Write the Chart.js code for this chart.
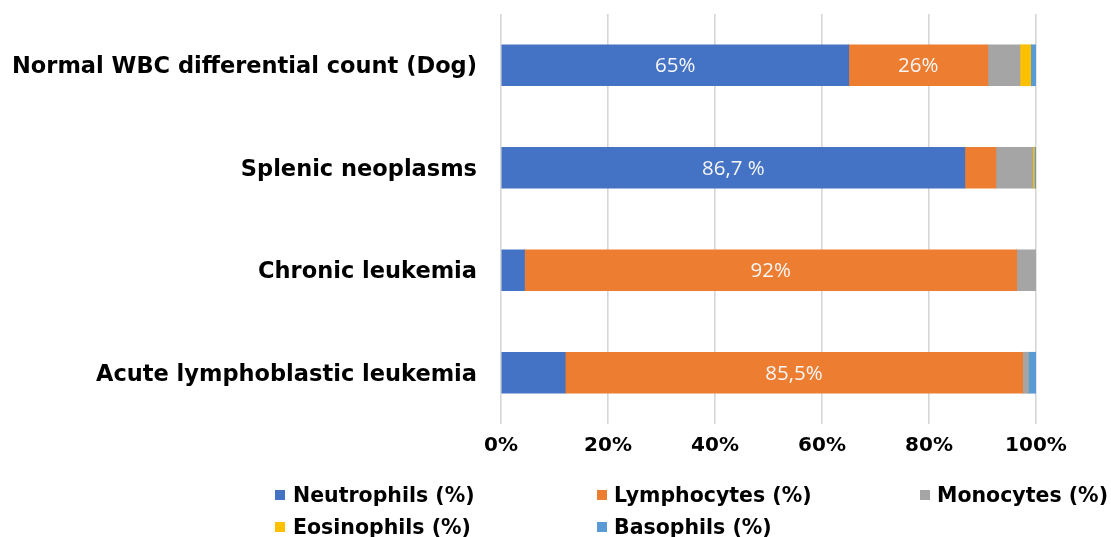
<!DOCTYPE html>
<html>
<head>
<meta charset="utf-8">
<script src="https://cdn.jsdelivr.net/npm/chart.js@4.4.1/dist/chart.umd.min.js"></script>
<style>
  html, body { margin: 0; padding: 0; background: #ffffff; }
  #wrap { position: relative; width: 1111px; height: 537px; }
  #c { position: absolute; left: 0; top: 0; }
  .lg { position: absolute; font-family: "DejaVu Sans", Verdana, sans-serif; font-weight: bold; font-size: 20.5px; color: #000; white-space: nowrap; line-height: 24px; height: 24px; }
  .lg span.box { position: absolute; width: 10px; height: 10px; top: 7px; }
</style>
</head>
<body>
<div id="wrap">
  <canvas id="c" width="1111" height="537"></canvas>
  <div id="legend"></div>
</div>
<script>
const categories = ['Normal WBC differential count (Dog)', 'Splenic neoplasms', 'Chronic leukemia', 'Acute lymphoblastic leukemia'];
const seriesNames = ['Neutrophils (%)', 'Lymphocytes (%)', 'Monocytes (%)', 'Eosinophils (%)', 'Basophils (%)'];
const neutrophils = [65, 86.7, 4.4, 12];
const lymphocytes = [26, 5.8, 92, 85.5];
const monocytes = [6, 6.9, 3.6, 1];
const eosinophils = [2, 0.3, 0, 0];
const basophils = [1, 0.3, 0, 1.5];
const neutrophilLabels = ['65%', '86,7 %', '', ''];
const lymphocyteLabels = ['26%', '', '92%', '85,5%'];
const xTicks = [0, 20, 40, 60, 80, 100];
const colors = ['#4472C4', '#ED7D31', '#A5A5A5', '#FFC000', '#5B9BD5'];

const seriesValues = [neutrophils, lymphocytes, monocytes, eosinophils, basophils];
const seriesLabels = [neutrophilLabels, lymphocyteLabels, null, null, null];

const barLabelPlugin = {
  id: 'barLabels',
  afterDatasetsDraw(chart) {
    const ctx = chart.ctx;
    ctx.save();
    ctx.fillStyle = '#f6f6f6';
    ctx.font = '20.5px "Open Sans", sans-serif';
    ctx.textAlign = 'center';
    ctx.textBaseline = 'middle';
    chart.data.datasets.forEach((ds, di) => {
      const labels = seriesLabels[di];
      if (!labels) return;
      const meta = chart.getDatasetMeta(di);
      meta.data.forEach((bar, i) => {
        const t = labels[i];
        if (!t) return;
        const cx = (bar.x + bar.base) / 2;
        ctx.fillText(t, cx, bar.y + 1);
      });
    });
    ctx.restore();
  }
};

new Chart(document.getElementById('c'), {
  type: 'bar',
  data: {
    labels: categories,
    datasets: seriesNames.map((n, i) => ({
      label: n,
      data: seriesValues[i],
      backgroundColor: colors[i],
      borderWidth: 0,
      barThickness: 41
    }))
  },
  options: {
    indexAxis: 'y',
    responsive: false,
    animation: false,
    layout: { padding: { left: 0, right: 75, top: 14, bottom: 73 } },
    plugins: { legend: { display: false }, tooltip: { enabled: false } },
    scales: {
      x: {
        stacked: true,
        min: 0, max: 100,
        afterBuildTicks(scale) { scale.ticks = xTicks.map(v => ({ value: v })); },
        afterFit(scale) { scale.height = 40; scale.paddingLeft = 0; scale.paddingRight = 0; },
        grid: { color: '#d6d6d6', lineWidth: 1.6, drawTicks: false },
        border: { display: false },
        ticks: {
          padding: 10,
          maxRotation: 0,
          color: '#000',
          font: { family: '"DejaVu Sans", Verdana, sans-serif', weight: 'bold', size: 20 },
          callback: v => v + '%'
        }
      },
      y: {
        stacked: true,
        afterFit(scale) { scale.width = 501; scale.paddingTop = 0; scale.paddingBottom = 0; },
        grid: { display: false, drawTicks: false },
        border: { display: false },
        ticks: {
          padding: 24,
          labelOffset: 2,
          color: '#000',
          autoSkip: false,
          font: { family: '"DejaVu Sans", Verdana, sans-serif', weight: 'bold', size: 22.5 }
        }
      }
    }
  },
  plugins: [barLabelPlugin]
});

// Legend (HTML), laid out in columns as in the reference: [box x, text x, row y]
const legendPos = [[275, 293, 483], [597, 614, 483], [920, 937, 483], [275, 293, 515], [597, 614, 515]];
const lg = document.getElementById('legend');
seriesNames.forEach((n, i) => {
  const d = document.createElement('div');
  d.className = 'lg';
  d.style.left = legendPos[i][1] + 'px';
  d.style.top = legendPos[i][2] + 'px';
  const b = document.createElement('span');
  b.className = 'box';
  b.style.background = colors[i];
  b.style.left = (legendPos[i][0] - legendPos[i][1]) + 'px';
  d.appendChild(b);
  d.appendChild(document.createTextNode(n));
  lg.appendChild(d);
});
</script>
</body>
</html>
